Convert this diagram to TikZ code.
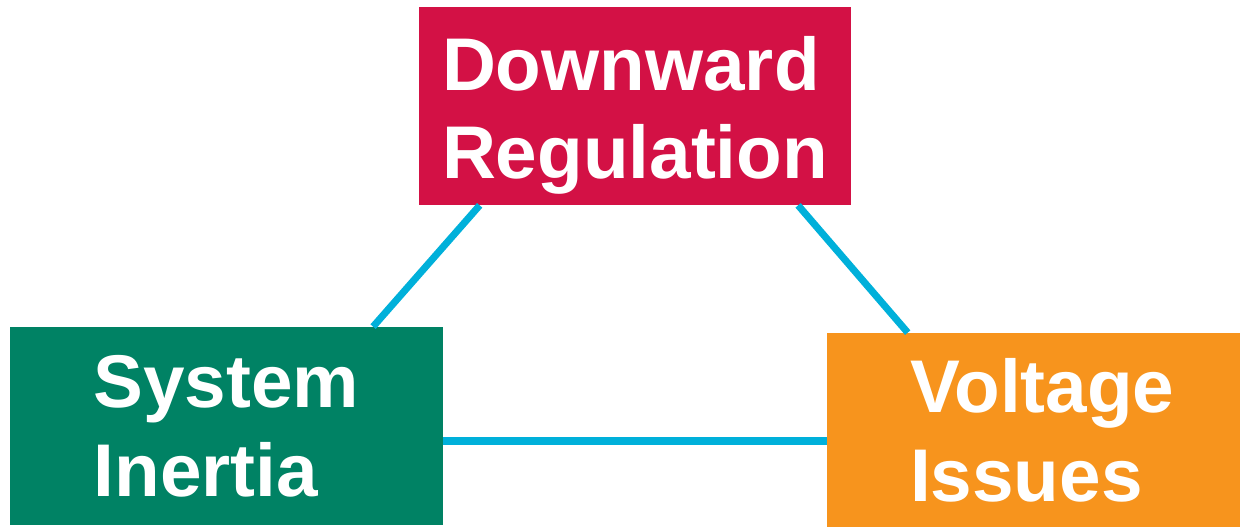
\documentclass[tikz,border=0pt]{standalone}
\usepackage{fontspec}
\setmainfont{Liberation Sans}
\usetikzlibrary{%
	calc%
}
\definecolor{regred}{HTML}{D31145}
\definecolor{inertgreen}{HTML}{008264}
\definecolor{voltorange}{HTML}{F7941D}
\definecolor{linkcyan}{HTML}{00B0DA}

\begin{document}
\begin{tikzpicture}[
	issue/.style={rectangle,inner sep=0pt,align=left,text=white,
		font=\fontsize{42.5pt}{50.5pt}\selectfont\bfseries},
	link/.style={linkcyan,line width=4pt}
	]
			\useasboundingbox (0,0) rectangle (24.82,10.54);
			\node[issue,fill=regred,minimum width=8.64cm,minimum height=3.96cm,
			text height=92pt]
			(down) at (12.70,8.42) {Downward\\Regulation};
			\node[issue,fill=inertgreen,minimum width=8.66cm,minimum height=3.96cm]
			(inert) at (4.53,2.02) {System\\Inertia};
			\node[issue,fill=voltorange,minimum width=8.26cm,minimum height=3.88cm]
			(volt) at (20.67,1.94) {\hspace*{0.35cm}Voltage\\\hspace*{0.35cm}Issues};
			\draw[link] ($(down.south west)!.141!(down.south east)$)
			-- ($(inert.north west)!.838!(inert.north east)$);
			\draw[link] ($(down.south west)!.877!(down.south east)$)
			-- ($(volt.north west)!.196!(volt.north east)$);
			\draw[link] ([yshift=-0.3cm]inert.east) -- ([yshift=-0.3cm]inert.east -| volt.west);
		\end{tikzpicture}
\end{document}
